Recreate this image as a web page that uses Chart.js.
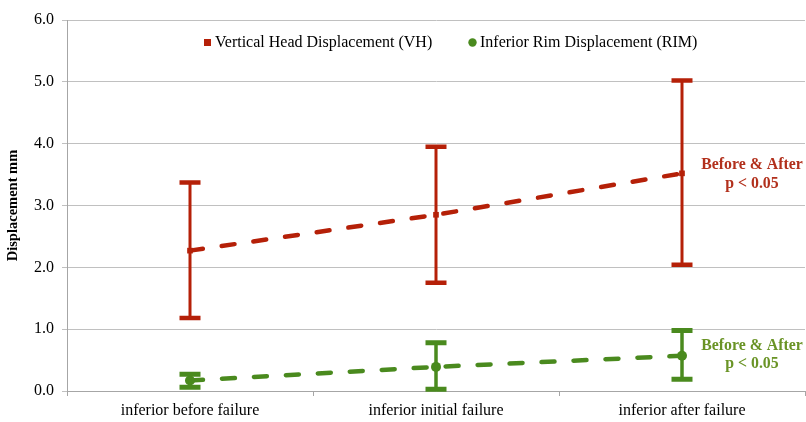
<!DOCTYPE html>
<html>
<head>
<meta charset="utf-8">
<script src="https://cdn.jsdelivr.net/npm/chart.js@4"></script>
<style>
  html, body { margin: 0; padding: 0; background: #fff; }
  #wrap { width: 806px; height: 422px; position: relative; }
</style>
</head>
<body>
<div id="wrap"><canvas id="c" width="806" height="422"></canvas></div>
<script>
const categories = ["inferior before failure", "inferior initial failure", "inferior after failure"];
const vhValues = [2.27, 2.85, 3.52];
const vhLow    = [1.18, 1.75, 2.04];
const vhHigh   = [3.37, 3.95, 5.02];
const rimValues = [0.17, 0.39, 0.57];
const rimLow    = [0.06, 0.03, 0.19];
const rimHigh   = [0.27, 0.78, 0.98];
const yTicks = [0, 1, 2, 3, 4, 5, 6];
const seriesNames = ["Vertical Head Displacement (VH)", "Inferior Rim Displacement (RIM)"];
const noteLines = ["Before & After", "p < 0.05"];

const RED = "#B52008";
const GREEN = "#4A8A1E";
const RED_TXT = "#B2301C";
const GREEN_TXT = "#6A9426";
const SERIF = "'Liberation Serif', 'Times New Roman', serif";

const errorBars = {
  id: 'errorBars',
  afterDatasetsDraw(chart) {
    const ctx = chart.ctx;
    const y = chart.scales.y;
    chart.data.datasets.forEach((ds, di) => {
      const meta = chart.getDatasetMeta(di);
      ctx.save();
      ctx.strokeStyle = ds.borderColor;
      meta.data.forEach((pt, i) => {
        const x = pt.x;
        const yl = y.getPixelForValue(ds.errLow[i]);
        const yh = y.getPixelForValue(ds.errHigh[i]);
        ctx.lineCap = 'butt';
        ctx.lineWidth = ds.errWidth;
        ctx.beginPath();
        ctx.moveTo(x, yl); ctx.lineTo(x, yh); ctx.stroke();
        ctx.lineWidth = ds.capWidth;
        ctx.beginPath();
        ctx.moveTo(x - 10.5, yl); ctx.lineTo(x + 10.5, yl);
        ctx.moveTo(x - 10.5, yh); ctx.lineTo(x + 10.5, yh);
        ctx.stroke();
      });
      ctx.restore();
    });
  }
};

const overlay = {
  id: 'overlay',
  afterDraw(chart) {
    const ctx = chart.ctx;
    ctx.save();
    // legend
    ctx.font = "16px " + SERIF;
    ctx.textBaseline = 'middle';
    ctx.textAlign = 'left';
    ctx.fillStyle = RED;
    ctx.fillRect(204, 39, 7, 7);
    ctx.fillStyle = '#000';
    ctx.fillText(seriesNames[0], 215, 43);
    ctx.fillStyle = GREEN;
    ctx.beginPath(); ctx.arc(472.5, 42.5, 4.2, 0, Math.PI * 2); ctx.fill();
    ctx.fillStyle = '#000';
    ctx.fillText(seriesNames[1], 480, 43);
    // annotations
    ctx.font = "bold 15.8px " + SERIF;
    ctx.textAlign = 'center';
    ctx.fillStyle = RED_TXT;
    ctx.fillText(noteLines[0], 752, 165);
    ctx.fillText(noteLines[1], 752, 184);
    ctx.fillStyle = GREEN_TXT;
    ctx.fillText(noteLines[0], 752, 346);
    ctx.fillText(noteLines[1], 752, 364);
    ctx.restore();
  }
};

new Chart(document.getElementById('c'), {
  type: 'line',
  data: {
    labels: categories,
    datasets: [
      {
        label: seriesNames[0],
        data: vhValues,
        errLow: vhLow, errHigh: vhHigh,
        errWidth: 3, capWidth: 4.5,
        borderColor: RED, backgroundColor: RED,
        borderWidth: 4.5, borderDash: [13, 19], borderCapStyle: 'round',
        pointStyle: 'rect', pointRadius: 4, pointBorderWidth: 0,
        fill: false, tension: 0, clip: false
      },
      {
        label: seriesNames[1],
        data: rimValues,
        errLow: rimLow, errHigh: rimHigh,
        errWidth: 3.5, capWidth: 5,
        borderColor: GREEN, backgroundColor: GREEN,
        borderWidth: 4.5, borderDash: [13, 19], borderCapStyle: 'round',
        pointStyle: 'circle', pointRadius: 5, pointBorderWidth: 0,
        fill: false, tension: 0, clip: false
      }
    ]
  },
  options: {
    responsive: false,
    animation: false,
    layout: { autoPadding: false, padding: { top: 20, right: 1, left: 0, bottom: 0 } },
    plugins: { legend: { display: false }, tooltip: { enabled: false } },
    scales: {
      x: {
        type: 'category',
        offset: true,
        grid: { offset: true, drawOnChartArea: false, tickLength: 5, color: '#a6a6a6' },
        border: { color: '#a6a6a6', width: 1 },
        ticks: { color: '#000', font: { family: SERIF, size: 16 }, padding: 5, maxRotation: 0 },
        afterFit(s) { s.height = 31; }
      },
      y: {
        min: 0, max: 6,
        afterBuildTicks(s) { s.ticks = yTicks.map(v => ({ value: v })); },
        grid: { color: '#c0c0c0', tickLength: 5 },
        border: { color: '#a6a6a6', width: 1 },
        ticks: { color: '#000', font: { family: SERIF, size: 16 }, padding: 8,
                 callback: v => Number(v).toFixed(1) },
        title: { display: true, text: 'Displacement mm', color: '#000',
                 font: { family: SERIF, size: 14.5, weight: 'bold' }, padding: { top: 5, bottom: 0 } },
        afterFit(s) { s.width = 67; }
      }
    }
  },
  plugins: [errorBars, overlay]
});
</script>
</body>
</html>
